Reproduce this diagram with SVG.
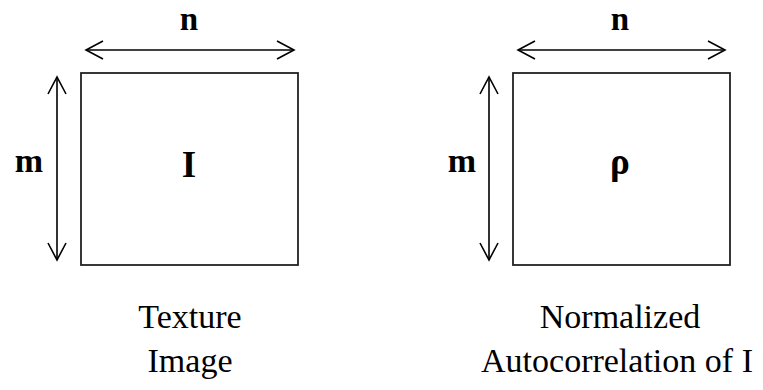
<svg xmlns="http://www.w3.org/2000/svg" width="763" height="390" viewBox="0 0 763 390">
<defs>
<marker id="ah" markerUnits="userSpaceOnUse" markerWidth="20" markerHeight="22" refX="18" refY="10" orient="auto-start-reverse" viewBox="0 0 20 20" overflow="visible">
<path d="M1,1 L18,10 L1,19" fill="none" stroke="#000" stroke-width="1.6"/>
</marker>
</defs>
<style>
.box{fill:#fff;stroke:#222;stroke-width:1.8}
.dim{stroke:#000;stroke-width:1.6;fill:none}
.lbl{font-family:"Liberation Serif","DejaVu Serif",serif;font-weight:bold;font-size:34px;text-anchor:middle;fill:#000}
.top{font-size:33px}
.big{font-family:"Liberation Serif","DejaVu Serif",serif;font-weight:bold;font-size:37px;text-anchor:middle;fill:#000}
.cap{font-family:"Liberation Serif","DejaVu Serif",serif;font-size:34px;text-anchor:middle;fill:#000}
</style>
<rect width="763" height="390" fill="#fff"/>
<g id="connectors">
<line class="dim" x1="86" y1="50" x2="294" y2="50" marker-start="url(#ah)" marker-end="url(#ah)"/>
<line class="dim" x1="57" y1="77" x2="57" y2="260" marker-start="url(#ah)" marker-end="url(#ah)"/>
<line class="dim" x1="518" y1="50" x2="725" y2="50" marker-start="url(#ah)" marker-end="url(#ah)"/>
<line class="dim" x1="489" y1="77" x2="489" y2="260" marker-start="url(#ah)" marker-end="url(#ah)"/>
</g>
<g id="texture">
<rect class="box" x="81" y="73" width="217" height="192"/>
<text class="big" x="189" y="177">I</text>
<text class="lbl top" x="189" y="30">n</text>
<text class="lbl" x="29" y="172">m</text>
<text class="cap" x="190" y="328">Texture</text>
<text class="cap" x="190" y="372">Image</text>
</g>
<g id="autocorr">
<rect class="box" x="513" y="73" width="217" height="192"/>
<text class="big" x="620" y="174">ρ</text>
<text class="lbl top" x="620" y="30">n</text>
<text class="lbl" x="462" y="172">m</text>
<text class="cap" x="620" y="328">Normalized</text>
<text class="cap" x="617" y="372">Autocorrelation of I</text>
</g>
</svg>
